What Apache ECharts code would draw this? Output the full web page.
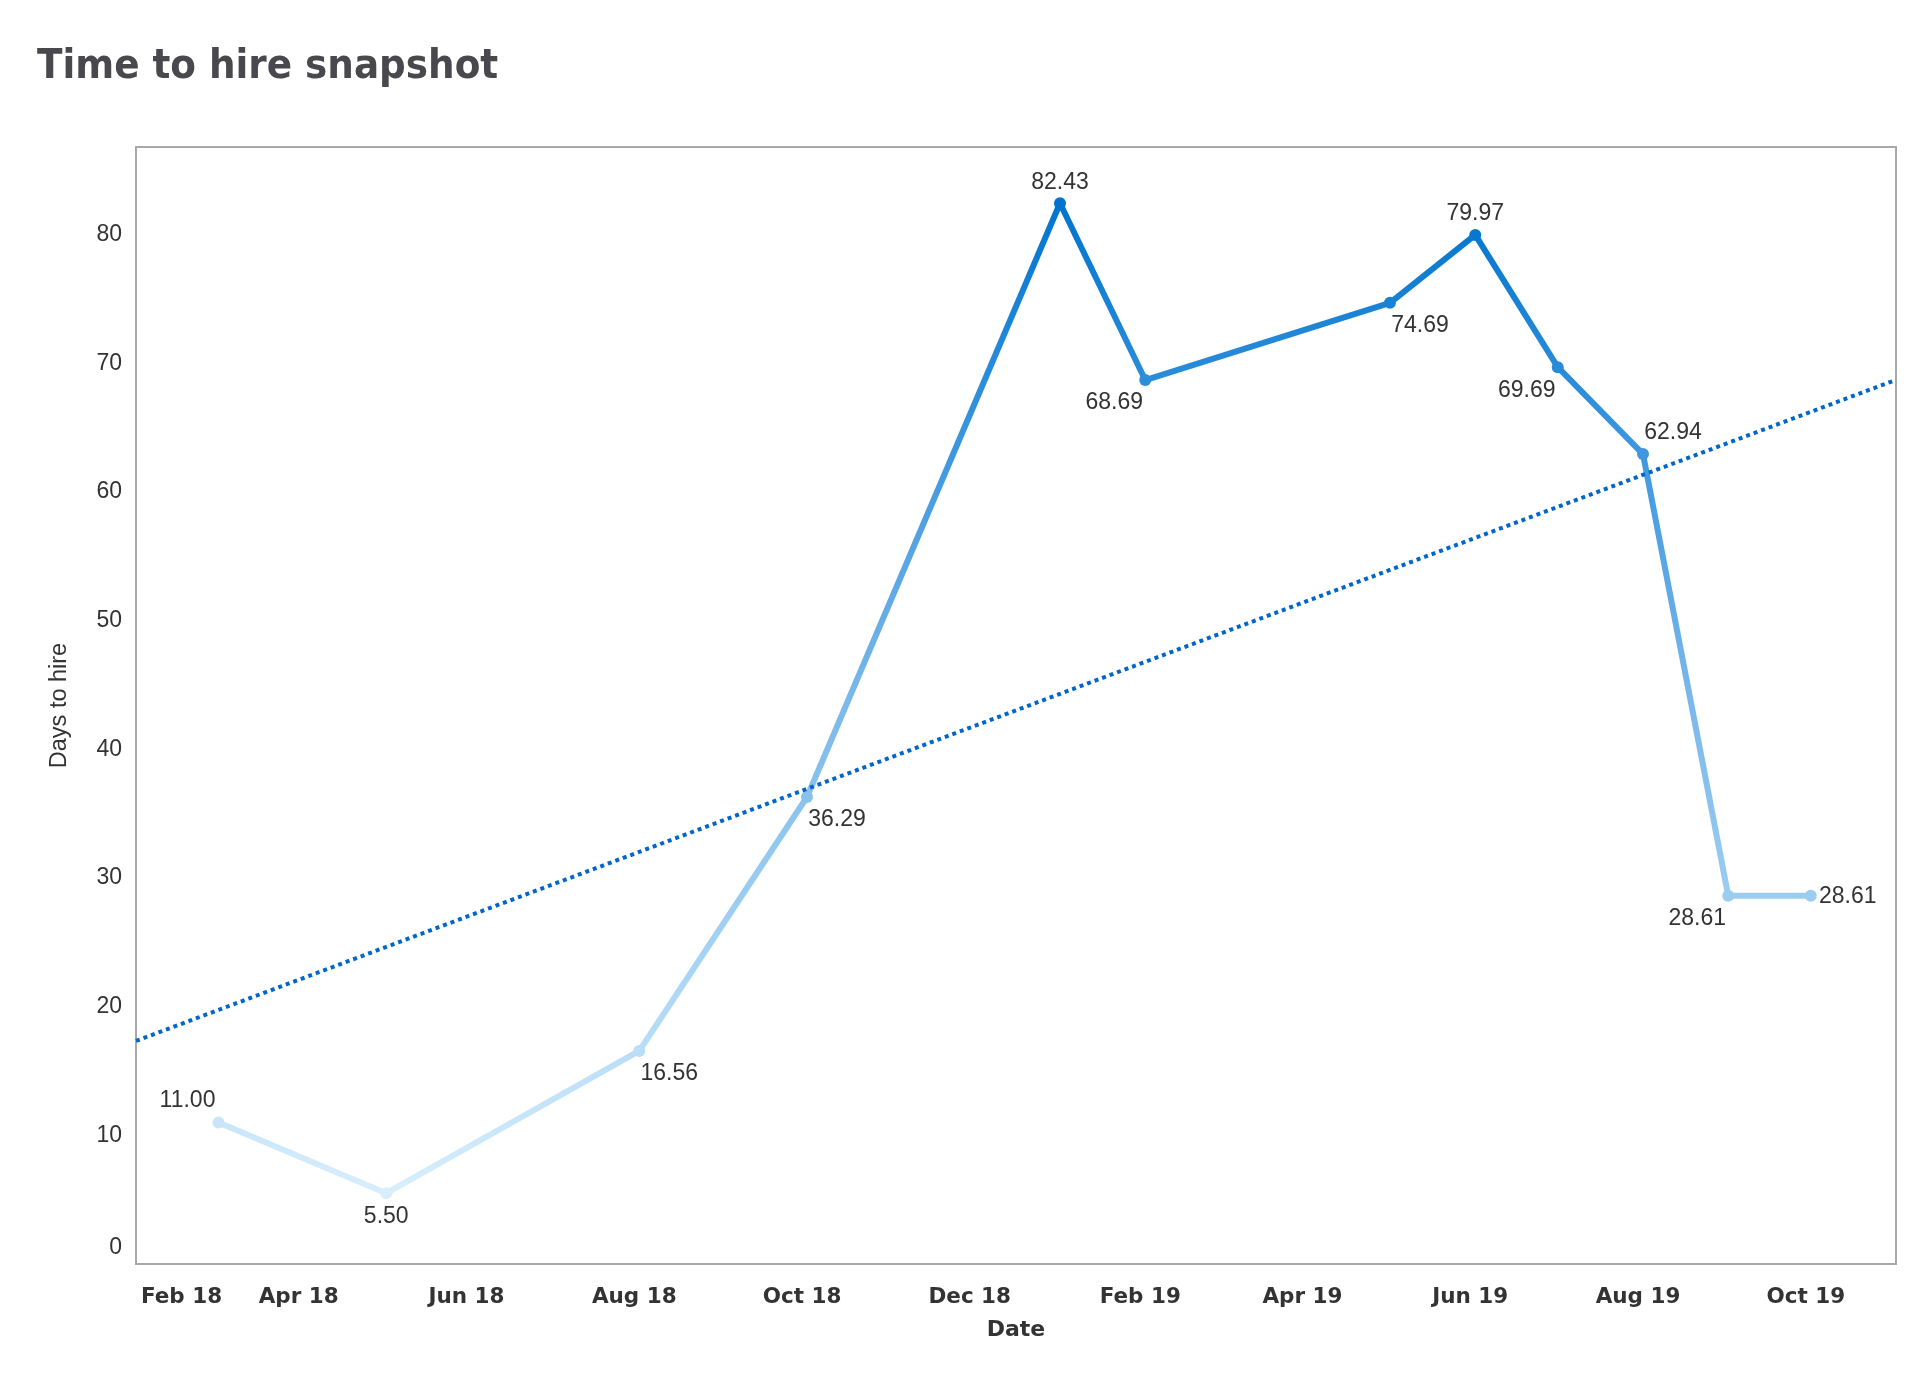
<!DOCTYPE html>
<html>
<head>
<meta charset="utf-8">
<script src="https://cdn.jsdelivr.net/npm/echarts@6/dist/echarts.min.js"></script>
<style>
  html, body { margin: 0; padding: 0; background: #ffffff; }
  #chart { width: 1924px; height: 1384px; }
</style>
</head>
<body>
<div id="chart"></div>
<script>
// ---- data ----
const dates = ['2018-03-01','2018-05-01','2018-08-01','2018-10-01','2019-01-01','2019-02-01',
               '2019-05-01','2019-06-01','2019-07-01','2019-08-01','2019-09-01','2019-10-01'];
const daysToHire = [11.00, 5.50, 16.56, 36.29, 82.43, 68.69, 74.69, 79.97, 69.69, 62.94, 28.61, 28.61];
const xTickDates = ['2018-02-01','2018-04-01','2018-06-01','2018-08-01','2018-10-01','2018-12-01',
                    '2019-02-01','2019-04-01','2019-06-01','2019-08-01','2019-10-01'];
const xTickLabels = ['Feb 18','Apr 18','Jun 18','Aug 18','Oct 18','Dec 18',
                     'Feb 19','Apr 19','Jun 19','Aug 19','Oct 19'];
const yTicks = [0, 10, 20, 30, 40, 50, 60, 70, 80];
const xRange = ['2018-01-30', '2019-11-01'];
const yRange = [0, 86.8];

// ---- helpers ----
function toTime(s) {
  const p = s.split('-').map(Number);
  return Date.UTC(p[0], p[1] - 1, p[2]);
}
const xs = dates.map(toTime);
const tickTimes = xTickDates.map(toTime);
const xMin = toTime(xRange[0]);
const xMax = toTime(xRange[1]);

// ordinary least squares trend line over the data
const n = xs.length;
const mx = xs.reduce((a, b) => a + b, 0) / n;
const my = daysToHire.reduce((a, b) => a + b, 0) / n;
let sxy = 0, sxx = 0;
for (let i = 0; i < n; i++) {
  sxy += (xs[i] - mx) * (daysToHire[i] - my);
  sxx += (xs[i] - mx) * (xs[i] - mx);
}
const slope = sxy / sxx;
const trend = [[xMin, my + slope * (xMin - mx)], [xMax, my + slope * (xMax - mx)]];

// label placement style per point
const labelSpots = ['tl','b','br','br','t','bl','br','t','bl','tr','bl','r'];
const spotOffsets = {
  tl: [-31, -22], t: [0, -21], tr: [30, -21],
  bl: [-31, 23], b: [0, 23], br: [30, 23], r: [37, 1]
};

const seriesData = xs.map((t, i) => ({
  value: [t, daysToHire[i]],
  label: { offset: spotOffsets[labelSpots[i]] }
}));

const chart = echarts.init(document.getElementById('chart'));
chart.setOption({
  backgroundColor: '#ffffff',
  animation: false,
  title: {
    text: 'Time to hire snapshot',
    left: 32,
    top: 41,
    textStyle: {
      fontFamily: "'DejaVu Sans Condensed', 'DejaVu Sans'",
      fontWeight: 'bold',
      fontSize: 41.5,
      color: '#48484d'
    }
  },
  grid: {
    left: 136, right: 28, top: 147, bottom: 120,
    show: true,
    borderColor: '#a8a8a8',
    borderWidth: 2,
    containLabel: false
  },
  visualMap: {
    type: 'continuous',
    show: false,
    seriesIndex: 0,
    dimension: 1,
    min: 5.5,
    max: 82.43,
    inRange: { color: ['#d8eefc', '#a3d2f3', '#7ab8ea', '#3d97df', '#0074cc'] }
  },
  xAxis: {
    type: 'value',
    min: xMin,
    max: xMax,
    name: 'Date',
    nameLocation: 'middle',
    nameGap: 55,
    nameTextStyle: {
      fontFamily: "'DejaVu Sans'",
      fontWeight: 'bold',
      fontSize: 22,
      color: '#333333'
    },
    axisLine: { show: true, onZero: false, lineStyle: { color: '#a8a8a8', width: 2 } },
    axisTick: { show: false },
    splitLine: { show: false },
    axisLabel: {
      customValues: tickTimes,
      margin: 22,
      padding: [0, 10, 0, 0],
      fontFamily: "'DejaVu Sans'",
      fontWeight: 'bold',
      fontSize: 21.5,
      color: '#333333',
      hideOverlap: false,
      formatter: function (val) {
        let idx = -1;
        for (let i = 0; i < tickTimes.length; i++) {
          if (Math.abs(tickTimes[i] - val) < 1000) { idx = i; }
        }
        const txt = idx >= 0 ? xTickLabels[idx] : '';
        return idx === 0 ? '{first|' + txt + '}' : txt;
      },
      rich: {
        first: {
          fontFamily: "'DejaVu Sans'",
          fontWeight: 'bold',
          fontSize: 21.5,
          color: '#333333',
          padding: [0, 0, 0, 90]
        }
      }
    }
  },
  yAxis: {
    type: 'value',
    min: yRange[0],
    max: yRange[1],
    name: 'Days to hire',
    nameLocation: 'middle',
    nameGap: 64,
    nameTextStyle: {
      fontFamily: "'Liberation Sans', Arial",
      fontSize: 23.5,
      color: '#333333'
    },
    axisLine: { show: false },
    axisTick: { show: false },
    splitLine: { show: false },
    axisLabel: {
      customValues: yTicks,
      margin: 14,
      fontFamily: "'Liberation Sans', Arial",
      fontSize: 23,
      color: '#333333',
      formatter: function (v) { return v === 0 ? '{zero|0}' : String(v); },
      rich: {
        zero: {
          fontFamily: "'Liberation Sans', Arial",
          fontSize: 23,
          color: '#333333',
          padding: [0, 0, 32, 0]
        }
      }
    }
  },
  series: [
    {
      name: 'Days to hire',
      type: 'line',
      data: seriesData,
      symbol: 'circle',
      symbolSize: 12,
      lineStyle: { width: 6 },
      label: {
        show: true,
        position: 'inside',
        fontFamily: "'Liberation Sans', Arial",
        fontSize: 23,
        color: '#333333',
        formatter: function (p) { return p.value[1].toFixed(2); }
      },
      z: 2
    },
    {
      name: 'Trend',
      type: 'line',
      data: trend,
      symbol: 'none',
      silent: true,
      lineStyle: { color: '#0066cc', width: 4, type: [4, 4] },
      z: 3
    }
  ]
});
</script>
</body>
</html>
